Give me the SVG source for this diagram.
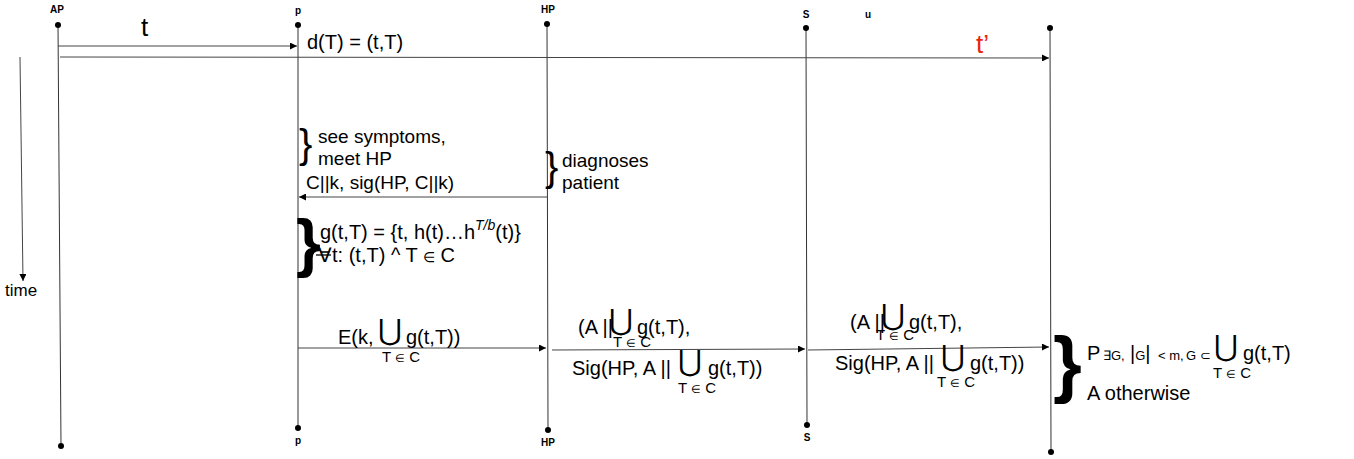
<svg xmlns="http://www.w3.org/2000/svg" width="1354" height="459" viewBox="0 0 1354 459">
<defs>
<marker id="ah" viewBox="0 0 10 10" refX="10" refY="5" markerWidth="10" markerHeight="7" markerUnits="userSpaceOnUse" orient="auto">
<path d="M0,0 L10,5 L0,10 z" fill="#000"/>
</marker>
<style>
text{font-family:"Liberation Sans",Arial,sans-serif;fill:#000}
.lbl{font-size:10px;font-weight:bold;text-anchor:middle}
.m{font-size:20px}
.n{font-size:19px}
.s{font-size:15px}
.e{font-size:11px}
.u{font-size:29px;font-family:"DejaVu Sans",sans-serif}
.sm{font-size:13px}
.life{stroke:#333;stroke-width:1;fill:none}
.msg{stroke:#444;stroke-width:1;fill:none;marker-end:url(#ah)}
</style>
</defs>
<rect width="1354" height="459" fill="#fff"/>

<g id="AP">
<line class="life" x1="58" y1="25" x2="61" y2="446"/>
<circle cx="58" cy="25" r="3"/>
<circle cx="61" cy="446" r="3"/>
<text class="lbl" x="57" y="13">AP</text>
</g>
<g id="p">
<line class="life" x1="298" y1="25" x2="298" y2="428"/>
<circle cx="298" cy="25" r="3"/>
<circle cx="298" cy="428" r="3"/>
<text class="lbl" x="298" y="14">p</text>
<text class="lbl" x="298" y="444">p</text>
</g>
<g id="HP">
<line class="life" x1="547" y1="24" x2="548" y2="430"/>
<circle cx="547" cy="24" r="3"/>
<circle cx="548" cy="430" r="3"/>
<text class="lbl" x="548" y="13">HP</text>
<text class="lbl" x="548" y="446">HP</text>
</g>
<g id="S">
<line class="life" x1="806" y1="28" x2="807" y2="425"/>
<circle cx="806" cy="28" r="3"/>
<circle cx="807" cy="425" r="3"/>
<text class="lbl" x="806" y="18">S</text>
<text class="lbl" x="807" y="441">S</text>
</g>
<g id="u">
<text class="lbl" x="868" y="18">u</text>
</g>
<g id="R">
<line class="life" x1="1050" y1="28" x2="1051" y2="452"/>
<circle cx="1050" cy="28" r="3"/>
<circle cx="1051" cy="452" r="3"/>
</g>

<g id="time">
<line class="msg" x1="20" y1="57" x2="23" y2="281"/>
<text x="5" y="296" style="font-size:17px">time</text>
</g>

<g id="connectors">
<line class="msg" x1="58" y1="46" x2="297" y2="46"/>
<line class="msg" x1="60" y1="57" x2="1049" y2="58"/>
<line class="msg" x1="547" y1="197" x2="299" y2="197"/>
<line class="msg" x1="298" y1="348" x2="546" y2="348"/>
<line class="msg" x1="552" y1="350" x2="805" y2="349"/>
<line class="msg" x1="808" y1="350" x2="1049" y2="347"/>
</g>

<g id="labels">
<text x="141" y="36" style="font-size:26px">t</text>
<text x="307" y="49" class="m">d(T) = (t,T)</text>
<text x="976" y="53" style="font-size:26px;fill:#e8250f">t’</text>

<text x="299" y="158" style="font-size:40px">}</text>
<text x="318" y="143" class="n">see symptoms,</text>
<text x="318" y="165" class="n">meet HP</text>

<text x="545" y="181" style="font-size:40px">}</text>
<text x="562" y="167" class="n">diagnoses</text>
<text x="562" y="189" class="n">patient</text>
<text x="306" y="189" class="n">C||k, sig(HP, C||k)</text>

<text x="296" y="265" style="font-size:64px;font-weight:bold">}</text>
<text x="320" y="239" class="m">g(t,T) = {t, h(t)…h<tspan style="font-size:14px;font-style:italic" dy="-9">T/b</tspan><tspan dy="9">(t)}</tspan></text>
<text x="318" y="262" class="m">∀t:  (t,T)  ^ T <tspan style="font-size:14px">∈</tspan> C</text>
<line x1="316" y1="255" x2="331" y2="255" stroke="#000" stroke-width="1.3"/>

<text x="338" y="344" class="m">E(k,</text>
<text x="378" y="340" class="u">⋃</text>
<text x="406" y="344" class="m">g(t,T))</text>
<text x="382" y="362" class="s">T <tspan class="e">∈</tspan> C</text>

<text x="578" y="334" class="m">(A ||</text>
<text x="609" y="330" class="u">⋃</text>
<text x="637" y="334" class="m">g(t,T),</text>
<text x="613" y="347" class="s">T <tspan class="e">∈</tspan> C</text>
<text x="572" y="375" class="m">Sig(HP, A ||</text>
<text x="678" y="371" class="u">⋃</text>
<text x="708" y="375" class="m">g(t,T))</text>
<text x="678" y="393" class="s">T <tspan class="e">∈</tspan> C</text>

<text x="850" y="329" class="m">(A ||</text>
<text x="881" y="325" class="u">⋃</text>
<text x="909" y="329" class="m">g(t,T),</text>
<text x="876" y="340" class="s">T <tspan class="e">∈</tspan> C</text>
<text x="835" y="370" class="m">Sig(HP, A ||</text>
<text x="941" y="366" class="u">⋃</text>
<text x="970" y="370" class="m">g(t,T))</text>
<text x="937" y="387" class="s">T <tspan class="e">∈</tspan> C</text>

<text x="1053" y="389" style="font-size:74px;font-weight:bold">}</text>
<text x="1087" y="360" class="m">P</text>
<text x="1103" y="360" class="sm">∃G,</text>
<text x="1130" y="360" class="m">|<tspan class="sm">G</tspan>|</text>
<text x="1158" y="360" class="sm">&lt; m,</text>
<text x="1186" y="360" class="sm">G ⊂</text>
<text x="1214" y="356" class="u">⋃</text>
<text x="1243" y="360" class="m">g(t,T)</text>
<text x="1213" y="378" class="s">T <tspan class="e">∈</tspan> C</text>
<text x="1087" y="400" class="m">A otherwise</text>
</g>
</svg>
